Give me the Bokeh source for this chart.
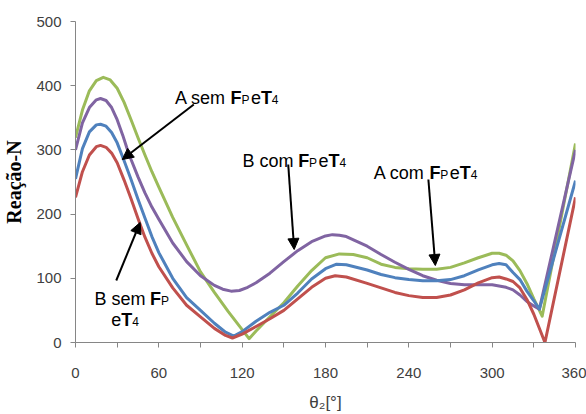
from bokeh.plotting import figure
from bokeh.models import Range1d, FixedTicker, Label, Arrow, NormalHead
from bokeh.embed import file_html
from bokeh.resources import INLINE

# ---------------- data ----------------
theta_green = [0, 5, 10, 15, 20, 25, 30, 35, 40, 45, 50, 55, 60, 70, 80, 90, 100, 110, 120, 125, 130, 140, 150, 160, 170, 180, 190, 200, 210, 220, 230, 240, 250, 260, 270, 280, 290, 300, 305, 310, 315, 320, 325, 330, 336, 360]
reacao_green = [319, 362, 392, 408, 413, 409, 396, 374, 347, 319, 292, 266, 242, 195, 152, 110, 78, 48, 20, 6, 18, 40, 62, 88, 112, 132, 138, 137, 132, 122, 117, 115, 114, 114, 117, 124, 132, 139, 139, 136, 127, 112, 92, 68, 41, 310]

theta_purple = [0, 5, 10, 15, 18, 22, 26, 30, 34, 37, 40, 45, 50, 55, 60, 70, 80, 90, 100, 106, 112, 118, 124, 130, 140, 150, 160, 170, 180, 185, 190, 195, 210, 220, 230, 240, 250, 260, 270, 280, 290, 300, 310, 315, 320, 325, 330, 334, 360]
reacao_purple = [300, 342, 366, 378, 380, 377, 366, 347, 323, 303, 285, 258, 233, 211, 192, 155, 126, 104, 89, 83, 80, 81, 86, 93, 108, 126, 143, 157, 166, 168, 167, 165, 150, 137, 125, 114, 104, 97, 92, 90, 90, 90, 86, 82, 74, 64, 57, 52, 300]

theta_blue = [0, 5, 10, 15, 18, 22, 26, 30, 35, 40, 45, 50, 55, 60, 70, 80, 90, 100, 108, 114, 120, 130, 140, 150, 160, 170, 180, 188, 195, 210, 220, 230, 240, 250, 260, 270, 280, 290, 300, 305, 310, 315, 320, 325, 330, 334, 360]
reacao_blue = [255, 302, 328, 339, 340, 337, 327, 311, 283, 254, 223, 194, 165, 140, 100, 70, 50, 30, 16, 10, 17, 33, 47, 58, 77, 99, 115, 122, 121, 113, 106, 101, 98, 96, 96, 98, 104, 113, 121, 123, 121, 109, 98, 80, 65, 52, 252]

theta_red = [0, 5, 10, 15, 18, 22, 26, 30, 35, 40, 45, 50, 55, 60, 70, 80, 90, 100, 108, 113, 120, 130, 140, 150, 160, 170, 180, 187, 195, 210, 220, 230, 240, 250, 260, 270, 280, 290, 300, 305, 310, 315, 320, 325, 330, 338, 360]
reacao_red = [226, 266, 292, 305, 307, 304, 295, 280, 253, 224, 193, 164, 139, 118, 85, 58, 40, 22, 11, 7, 13, 25, 37, 50, 68, 86, 100, 104, 102, 92, 85, 78, 73, 70, 70, 74, 82, 93, 101, 102, 99, 95, 85, 67, 44, 0, 226]

x_ticks = [0, 30, 60, 90, 120, 150, 180, 210, 240, 270, 300, 330, 360]
x_tick_labels = ["0", "", "60", "", "120", "", "180", "", "240", "", "300", "", "360"]
y_ticks = [0, 100, 200, 300, 400, 500]

series = [
    ("A com", theta_green, reacao_green, "#9BBB59"),
    ("B com", theta_purple, reacao_purple, "#8064A2"),
    ("A sem", theta_blue, reacao_blue, "#4F81BD"),
    ("B sem", theta_red, reacao_red, "#C0504D"),
]

# ---------------- layout ----------------
W, H = 586, 414
FL, FR, FT, FB = 72, 575, 21, 342

p = figure(width=W, height=H, x_range=Range1d(0, 360), y_range=Range1d(0, 500),
           output_backend="svg", toolbar_location=None,
           min_border_left=FL, min_border_right=W - FR,
           min_border_top=FT, min_border_bottom=H - FB)
p.outline_line_color = None
p.grid.visible = False
p.background_fill_color = "white"
p.border_fill_color = "white"

for name, xs, ys, col in series:
    p.line(xs, ys, line_color=col, line_width=3, line_join="round")

axcol = "#868686"
labcol = "#404040"
for ax in (p.xaxis[0], p.yaxis[0]):
    ax.axis_line_color = axcol
    ax.major_tick_line_color = axcol
    ax.minor_tick_line_color = None
    ax.major_tick_in = 0
    ax.major_tick_out = 5
    ax.major_label_text_font = "Liberation Sans"
    ax.major_label_text_font_size = "15px"
    ax.major_label_text_color = labcol

p.xaxis.ticker = FixedTicker(ticks=x_ticks)
p.xaxis.major_label_overrides = {t: l for t, l in zip(x_ticks, x_tick_labels)}
p.xaxis.major_label_standoff = 20
p.xaxis.axis_label = "θ₂[°]"
p.xaxis.axis_label_text_font = "Liberation Sans"
p.xaxis.axis_label_text_font_style = "normal"
p.xaxis.axis_label_text_font_size = "17px"
p.xaxis.axis_label_text_color = labcol
p.xaxis.axis_label_standoff = 12

p.yaxis.ticker = FixedTicker(ticks=y_ticks)
p.yaxis.major_label_standoff = 9
p.yaxis.axis_label = "Reação-N"
p.yaxis.axis_label_text_font = "Liberation Serif"
p.yaxis.axis_label_text_font_style = "bold"
p.yaxis.axis_label_text_font_size = "20px"
p.yaxis.axis_label_text_color = "black"
p.yaxis.axis_label_standoff = 8


# ---------------- annotations (screen px -> data) ----------------
def dx(px):
    return (px - FL) / (FR - FL) * 360.0


def dy(py):
    return (FB - py) / (FB - FT) * 500.0


MAIN = 18
SUB = 12


def piece(x, y, text, bold=False, size=MAIN):
    p.add_layout(Label(x=dx(x), y=dy(y), text=text, text_font="Liberation Sans",
                       text_font_size=f"{size}px",
                       text_font_style="bold" if bold else "normal",
                       text_baseline="alphabetic", text_align="left",
                       text_color="black"))


def fp_et4(x, y, lead):
    # lead text, then bold F with subscript P, then e, bold T with subscript 4
    piece(x, y, lead)
    cx = x + 3.112 * MAIN
    piece(cx, y, "F", bold=True)
    cx += 0.611 * MAIN
    piece(cx, y + 2, "P", size=SUB)
    cx += 0.667 * SUB + 1.5
    piece(cx, y, "e")
    cx += 0.556 * MAIN
    piece(cx, y, "T", bold=True)
    cx += 0.611 * MAIN
    piece(cx, y + 2, "4", size=SUB)


fp_et4(172, 97, "A sem ")
fp_et4(240, 160, "B com ")
fp_et4(372, 172, "A com ")

# two-line label "B sem F_P / e T_4"
piece(91, 298, "B sem ")
bx = 91 + 3.112 * MAIN
piece(bx, 298, "F", bold=True)
piece(bx + 0.611 * MAIN, 300, "P", size=SUB)
ex = 108
piece(ex, 319, "e")
piece(ex + 0.556 * MAIN, 319, "T", bold=True)
piece(ex + 0.556 * MAIN + 0.611 * MAIN, 321, "4", size=SUB)

arrows = [
    ((191, 104), (119, 159)),
    ((113, 280), (137, 222)),
    ((286, 164), (292, 249)),
    ((427, 179), (434, 265)),
]
for (sx, sy), (ex_, ey) in arrows:
    p.add_layout(Arrow(end=NormalHead(size=11, fill_color="black", line_color="black"),
                       x_start=dx(sx), y_start=dy(sy), x_end=dx(ex_), y_end=dy(ey),
                       line_color="black", line_width=2))

open("out.html", "w").write(file_html(p, INLINE))
